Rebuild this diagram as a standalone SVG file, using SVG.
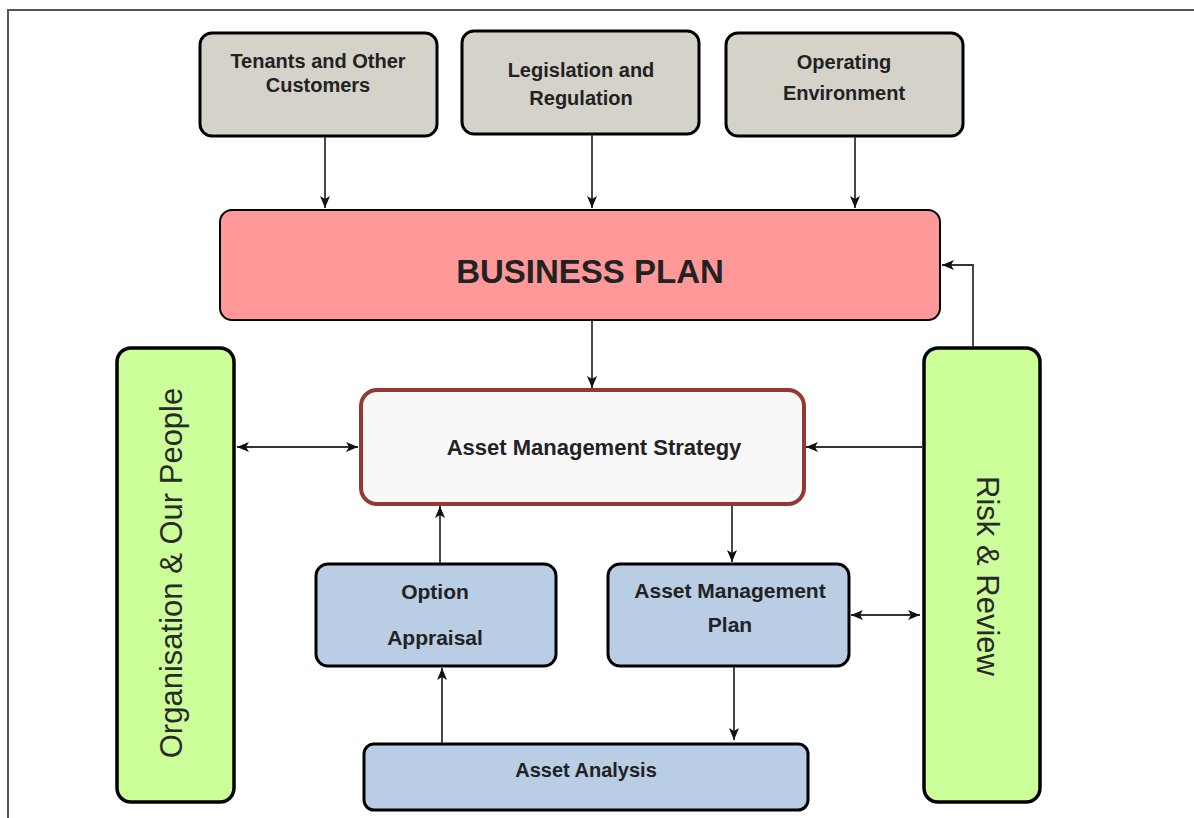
<svg xmlns="http://www.w3.org/2000/svg" width="1194" height="818" viewBox="0 0 1194 818">
<style>
.top{fill:#D5D2CA;stroke:#000;stroke-width:3}
.blue{fill:#B9CDE5;stroke:#000;stroke-width:3}
.green{fill:#CCFF99;stroke:#000;stroke-width:3.5}
.lbl{font-family:"Liberation Sans",Arial,sans-serif;font-weight:bold;fill:#222;text-anchor:middle}
.vert{font-family:"Liberation Sans",Arial,sans-serif;font-size:31px;fill:#2a2a2a;text-anchor:middle}
.conn{stroke:#333;stroke-width:1.8;fill:none}
</style>
<defs>
<marker id="ah" markerUnits="userSpaceOnUse" markerWidth="12" markerHeight="12" viewBox="0 0 12 12" refX="12" refY="6" orient="auto-start-reverse">
<path d="M0,1 L12,6 L0,11 L3,6 z" fill="#111"/>
</marker>
</defs>
<rect x="0" y="0" width="1194" height="818" fill="#fff"/>
<path d="M8,830 V10 H1200" fill="none" stroke="#555" stroke-width="2"/>

<g id="tenants">
<rect class="top" x="200" y="33" width="237" height="103" rx="12"/>
<text class="lbl" x="318" y="68" font-size="20">Tenants and Other</text>
<text class="lbl" x="318" y="92" font-size="20">Customers</text>
</g>
<g id="legislation">
<rect class="top" x="462" y="31" width="237" height="103" rx="12"/>
<text class="lbl" x="581" y="77" font-size="20">Legislation and</text>
<text class="lbl" x="581" y="105" font-size="20">Regulation</text>
</g>
<g id="operating">
<rect class="top" x="726" y="33" width="237" height="103" rx="12"/>
<text class="lbl" x="844" y="69" font-size="20">Operating</text>
<text class="lbl" x="844" y="100" font-size="20">Environment</text>
</g>
<g id="business-plan">
<rect x="220" y="210" width="720" height="110" rx="12" fill="#FF9999" stroke="#000" stroke-width="2"/>
<text class="lbl" x="590" y="283" font-size="33" fill="#111">BUSINESS PLAN</text>
</g>
<g id="organisation">
<rect class="green" x="117" y="348" width="117" height="454" rx="14"/>
<text class="vert" transform="translate(182,573) rotate(-90)">Organisation &amp; Our People</text>
</g>
<g id="risk-review">
<rect class="green" x="924" y="348" width="116" height="454" rx="14"/>
<text class="vert" transform="translate(977,576) rotate(90)">Risk &amp; Review</text>
</g>
<g id="ams">
<rect x="361" y="390" width="443" height="114" rx="16" fill="#F8F8F8" stroke="#953735" stroke-width="4"/>
<text class="lbl" x="594" y="455" font-size="22">Asset Management Strategy</text>
</g>
<g id="option-appraisal">
<rect class="blue" x="316" y="564" width="240" height="102" rx="12"/>
<text class="lbl" x="435" y="599" font-size="21">Option</text>
<text class="lbl" x="435" y="645" font-size="21">Appraisal</text>
</g>
<g id="amp">
<rect class="blue" x="608" y="564" width="241" height="102" rx="12"/>
<text class="lbl" x="730" y="598" font-size="21">Asset Management</text>
<text class="lbl" x="730" y="632" font-size="21">Plan</text>
</g>
<g id="asset-analysis">
<rect class="blue" x="364" y="744" width="444" height="66" rx="10"/>
<text class="lbl" x="586" y="777" font-size="20">Asset Analysis</text>
</g>

<g id="connectors">
<path class="conn" d="M325,137 V208" marker-end="url(#ah)"/>
<path class="conn" d="M592,135 V208" marker-end="url(#ah)"/>
<path class="conn" d="M855,137 V208" marker-end="url(#ah)"/>
<path class="conn" d="M592,321 V388" marker-end="url(#ah)"/>
<path class="conn" d="M237,447 H358" marker-start="url(#ah)" marker-end="url(#ah)"/>
<path class="conn" d="M923,447 H806" marker-end="url(#ah)"/>
<path class="conn" d="M973,347 V265 H942" marker-end="url(#ah)"/>
<path class="conn" d="M732,506 V562" marker-end="url(#ah)"/>
<path class="conn" d="M440,563 V506" marker-end="url(#ah)"/>
<path class="conn" d="M851,615 H920" marker-start="url(#ah)" marker-end="url(#ah)"/>
<path class="conn" d="M734,667 V740" marker-end="url(#ah)"/>
<path class="conn" d="M442,743 V668" marker-end="url(#ah)"/>
</g>
</svg>
